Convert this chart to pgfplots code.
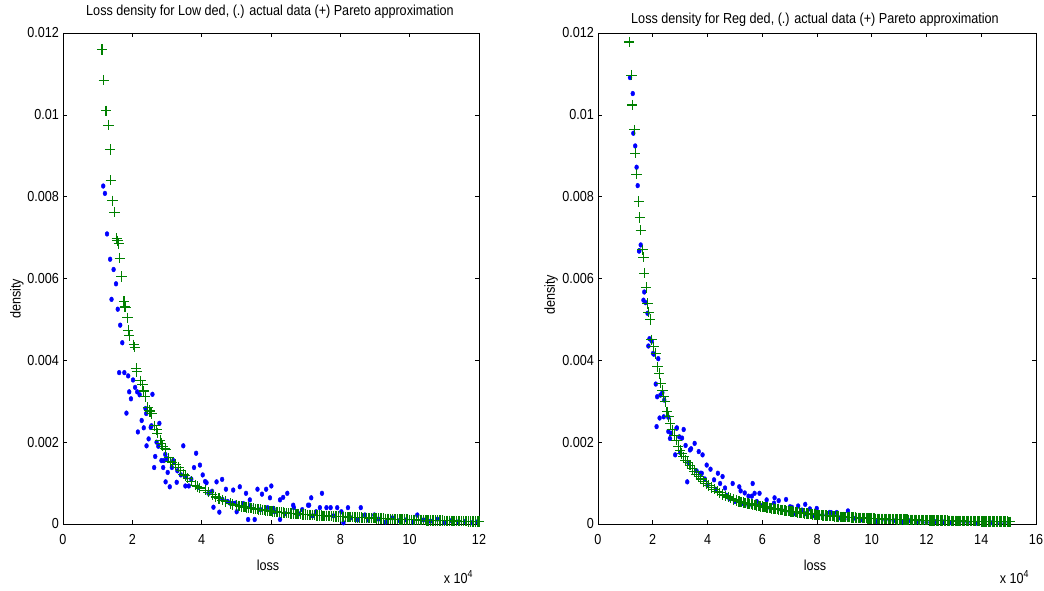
\documentclass[border=0pt]{standalone}
\usepackage{graphicx}
\usepackage{fontspec}
\setmainfont{Liberation Sans}
\usepackage{pgfplots}
\pgfplotsset{compat=1.18}
\usepackage{pgfplotstable}

\definecolor{mblue}{rgb}{0,0,1}
\definecolor{mgreen}{rgb}{0,0.5,0}
\newcommand\cx[1]{\scalebox{0.87}[1]{#1}}

% loss in units of 10^4, density in units of 10^-3
\pgfplotstableread{
x y
1.16 8.26
1.21 8.08
1.27 7.09
1.36 6.47
1.40 5.49
1.46 6.22
1.53 5.87
1.58 5.25
1.65 4.86
1.71 4.43
1.62 3.70
1.77 3.70
1.83 2.71
1.88 3.62
1.91 3.23
1.96 3.06
2.02 3.52
2.08 3.34
2.14 3.23
2.16 2.25
2.21 3.16
2.27 2.53
2.33 2.35
2.38 2.82
2.41 1.91
2.47 2.08
2.53 2.36
2.58 3.17
2.63 1.38
2.66 1.65
2.78 2.46
2.84 1.55
2.89 1.38
2.91 1.55
2.96 1.03
3.02 1.26
3.08 0.91
3.14 1.38
3.18 1.55
3.28 1.02
3.47 1.91
3.53 0.93
3.63 0.93
3.78 1.38
3.84 1.73
3.95 1.44
4.03 1.20
4.10 1.04
4.14 1.01
4.34 0.41
4.43 1.03
4.51 0.29
4.59 1.09
4.70 0.85
4.82 0.51
4.91 0.83
4.97 0.51
5.01 0.30
5.10 0.91
5.28 0.75
5.34 0.11
5.39 0.59
5.53 0.11
5.61 0.85
5.74 0.73
5.86 0.85
5.97 0.64
6.01 0.93
6.07 0.38
6.26 0.11
6.26 0.59
6.35 0.65
6.47 0.75
6.64 0.46
6.66 0.40
7.07 0.46
7.10 0.46
7.16 0.64
7.30 0.30
7.41 0.40
7.47 0.75
7.60 0.40
7.72 0.40
7.91 0.40
8.03 0.30
8.09 0.03
8.22 0.40
8.59 0.40
8.71 0.22
8.98 0.22
10.22 0.22
2.40 2.70
2.55 2.40
2.70 2.00
2.75 1.90
2.95 1.70
3.00 1.60
3.20 1.50
3.30 1.30
3.40 1.20
3.55 1.15
3.70 1.10
3.90 0.90
4.20 0.75
4.30 0.80
4.60 0.60
4.75 0.55
4.90 0.50
5.20 0.50
5.40 0.45
5.70 0.35
5.90 0.40
6.10 0.30
6.40 0.25
6.80 0.25
6.90 0.35
7.20 0.20
7.50 0.15
7.80 0.20
8.30 0.15
8.50 0.10
8.80 0.10
9.10 0.12
9.30 0.05
9.50 0.15
9.70 0.08
9.90 0.10
10.10 0.05
10.40 0.10
10.60 0.07
10.80 0.12
11.00 0.04
11.20 0.08
11.40 0.05
11.60 0.06
11.80 0.03
11.95 0.05
}\lowdata

\pgfplotstableread{
x y
1.125 11.60
1.18 10.85
1.24 10.10
1.31 9.75
1.36 9.15
1.38 8.40
1.43 7.90
1.49 7.62
1.55 6.98
1.57 6.92
1.61 6.85
1.64 6.50
1.69 6.05
1.76 5.44
1.78 5.31
1.80 5.30
1.86 5.04
1.88 4.74
1.91 4.61
2.04 4.38
2.07 4.32
2.11 3.80
2.13 3.72
2.23 3.50
2.29 3.40
2.33 3.25
2.37 3.11
2.45 2.85
2.49 2.78
2.51 2.74
2.55 2.70
2.65 2.40
2.70 2.30
2.72 2.22
2.80 2.05
2.83 1.97
2.88 1.90
2.95 1.84
2.97 1.81
3.05 1.62
3.09 1.52
3.15 1.50
3.25 1.45
3.34 1.39
3.40 1.30
3.48 1.22
3.52 1.19
3.60 1.12
3.70 1.05
3.81 0.95
3.87 0.92
3.95 0.88
4.10 0.83
4.20 0.78
4.30 0.72
4.41 0.66
4.50 0.62
4.60 0.58
4.70 0.55
4.82 0.50
4.90 0.48
5.0 0.450
5.1 0.435
5.2 0.420
5.3 0.405
5.4 0.392
5.5 0.380
5.6 0.366
5.7 0.352
5.8 0.340
5.9 0.325
6.0 0.312
6.1 0.302
6.2 0.292
6.3 0.282
6.4 0.272
6.5 0.262
6.6 0.256
6.7 0.250
6.8 0.243
6.9 0.236
7.0 0.230
7.1 0.224
7.2 0.218
7.3 0.212
7.4 0.206
7.5 0.200
7.6 0.196
7.7 0.192
7.8 0.188
7.9 0.184
8.0 0.180
8.1 0.176
8.2 0.172
8.3 0.168
8.4 0.164
8.5 0.160
8.6 0.156
8.7 0.152
8.8 0.148
8.9 0.144
9.0 0.140
9.1 0.136
9.2 0.132
9.3 0.128
9.4 0.124
9.5 0.120
9.6 0.117
9.7 0.114
9.8 0.111
9.9 0.108
10.0 0.105
10.1 0.102
10.2 0.099
10.3 0.096
10.4 0.093
10.5 0.090
10.6 0.088
10.7 0.086
10.8 0.084
10.9 0.082
11.0 0.080
11.1 0.078
11.2 0.076
11.3 0.074
11.4 0.072
11.5 0.070
11.6 0.068
11.7 0.066
11.8 0.064
11.9 0.062
12.0 0.060
}\lowpareto

% the denser part of the Pareto band, left panel
\pgfplotstableread{
x y
5.05 0.443
5.15 0.428
5.25 0.412
5.35 0.399
5.45 0.386
5.55 0.372
5.65 0.359
5.75 0.346
5.85 0.332
5.95 0.318
6.05 0.307
6.15 0.297
6.25 0.287
6.35 0.277
6.45 0.267
6.55 0.259
6.65 0.253
6.75 0.246
6.85 0.240
6.95 0.233
7.05 0.227
7.15 0.221
7.25 0.215
7.35 0.209
7.45 0.203
7.55 0.198
7.65 0.194
7.75 0.190
7.85 0.186
7.95 0.182
8.05 0.178
8.15 0.174
8.25 0.170
8.35 0.166
8.45 0.162
8.55 0.158
8.65 0.154
8.75 0.150
8.85 0.146
8.95 0.142
9.05 0.138
9.15 0.134
9.25 0.130
9.35 0.126
9.45 0.122
9.55 0.118
9.65 0.115
9.75 0.112
9.85 0.109
9.95 0.106
10.05 0.103
10.15 0.100
10.25 0.097
10.35 0.094
10.45 0.091
10.55 0.089
10.65 0.087
10.75 0.085
10.85 0.083
10.95 0.081
11.05 0.079
11.15 0.077
11.25 0.075
11.35 0.073
11.45 0.071
11.55 0.069
11.65 0.067
11.75 0.065
11.85 0.063
11.95 0.061
}\lowparetob

\pgfplotstableread{
x y
1.17 10.91
1.27 10.52
1.29 9.55
1.36 9.24
1.41 8.72
1.45 8.27
1.50 6.67
1.51 6.68
1.56 6.82
1.66 5.47
1.69 5.67
1.74 5.41
1.81 5.15
1.84 4.35
1.88 4.53
1.96 4.47
2.01 4.17
2.04 4.15
2.11 3.42
2.14 2.38
2.16 3.11
2.20 4.04
2.25 2.59
2.28 3.15
2.35 3.21
2.40 2.62
2.42 3.03
2.57 2.61
2.57 2.26
2.63 2.09
2.67 2.22
2.82 1.69
2.87 2.34
2.88 2.35
2.97 2.13
3.07 2.10
3.13 2.31
3.20 1.92
3.26 1.03
3.36 1.81
3.40 1.84
3.53 1.97
3.68 1.77
3.75 1.24
3.79 1.24
3.82 1.69
3.97 1.44
4.11 1.34
4.24 1.08
4.38 1.24
4.46 0.99
4.55 1.16
4.64 0.88
4.92 0.99
5.16 0.91
5.21 0.81
5.36 0.76
5.50 0.68
5.62 0.68
5.65 0.99
5.72 0.75
5.80 0.55
5.90 0.75
6.16 0.59
6.43 0.51
6.45 0.64
6.60 0.57
6.87 0.60
7.01 0.42
7.08 0.41
7.31 0.44
7.45 0.34
7.57 0.48
7.74 0.37
7.99 0.38
8.46 0.28
8.51 0.28
8.72 0.28
9.13 0.32
3.00 1.75
3.30 1.50
3.60 1.30
3.90 1.10
4.00 0.95
4.30 0.85
4.70 0.70
4.80 0.62
5.00 0.55
5.30 0.50
5.50 0.45
6.00 0.45
6.30 0.38
6.70 0.35
7.00 0.30
7.20 0.25
7.60 0.25
7.90 0.20
8.20 0.22
8.80 0.15
9.00 0.12
9.40 0.14
9.60 0.10
9.90 0.12
10.20 0.06
10.50 0.10
10.80 0.08
11.10 0.05
11.40 0.08
11.70 0.06
12.00 0.04
12.30 0.06
12.60 0.05
12.90 0.03
13.20 0.05
13.50 0.04
13.80 0.02
14.10 0.04
14.40 0.03
14.70 0.02
15.00 0.03
}\regdata

\pgfplotstableread{
x y
1.14 11.78
1.22 10.97
1.25 10.24
1.33 9.63
1.36 9.06
1.41 8.55
1.49 7.88
1.53 7.49
1.56 7.18
1.63 6.70
1.66 6.52
1.69 6.13
1.76 5.78
1.81 5.39
1.84 5.18
1.91 5.00
1.96 4.50
2.03 4.33
2.11 4.17
2.18 3.84
2.23 3.68
2.30 3.44
2.35 3.27
2.40 3.11
2.45 2.99
2.52 2.74
2.59 2.62
2.64 2.46
2.71 2.30
2.79 2.17
2.86 2.05
2.93 1.89
3.00 1.80
3.06 1.72
3.12 1.64
3.20 1.56
3.28 1.50
3.36 1.44
3.44 1.36
3.52 1.28
3.60 1.21
3.68 1.15
3.76 1.10
3.85 1.04
3.95 0.99
4.05 0.94
4.15 0.89
4.25 0.85
4.35 0.80
4.45 0.76
4.55 0.72
4.65 0.69
4.75 0.66
4.85 0.63
4.95 0.60
5.05 0.57
5.15 0.550
5.25 0.535
5.35 0.520
5.45 0.505
5.55 0.490
5.65 0.475
5.75 0.460
5.85 0.445
5.95 0.430
6.05 0.418
6.15 0.406
6.25 0.394
6.35 0.382
6.45 0.371
6.55 0.360
6.65 0.349
6.75 0.338
6.85 0.327
6.95 0.316
7.05 0.306
7.15 0.296
7.25 0.287
7.35 0.278
7.45 0.269
7.55 0.260
7.65 0.252
7.75 0.244
7.85 0.236
7.95 0.228
8.05 0.221
8.15 0.215
8.25 0.209
8.35 0.203
8.45 0.198
8.55 0.193
8.65 0.188
8.75 0.183
8.85 0.178
8.95 0.174
9.05 0.170
9.15 0.166
9.25 0.162
9.35 0.158
9.45 0.154
9.55 0.150
9.65 0.146
9.75 0.142
9.85 0.138
9.95 0.134
10.05 0.131
10.15 0.129
10.25 0.127
10.35 0.125
10.45 0.123
10.55 0.121
10.65 0.119
10.75 0.117
10.85 0.115
10.95 0.113
11.05 0.111
11.15 0.109
11.25 0.107
11.35 0.105
11.45 0.103
11.55 0.101
11.65 0.099
11.75 0.097
11.85 0.095
11.95 0.093
12.05 0.091
12.15 0.090
12.25 0.088
12.35 0.087
12.45 0.085
12.55 0.084
12.65 0.082
12.75 0.081
12.85 0.079
12.95 0.078
13.05 0.076
13.15 0.075
13.25 0.074
13.35 0.073
13.45 0.072
13.55 0.071
13.65 0.070
13.75 0.069
13.85 0.068
13.95 0.067
14.05 0.066
14.15 0.065
14.25 0.064
14.35 0.063
14.45 0.062
14.55 0.061
14.65 0.060
14.75 0.059
14.85 0.058
14.95 0.057
15.05 0.056
}\regpareto

% the denser part of the Pareto band, right panel
\pgfplotstableread{
x y
5.20 0.542
5.30 0.527
5.40 0.512
5.50 0.497
5.60 0.482
5.70 0.467
5.80 0.452
5.90 0.437
6.00 0.424
6.10 0.412
6.20 0.400
6.30 0.388
6.40 0.376
6.50 0.365
6.60 0.354
6.70 0.343
6.80 0.332
6.90 0.321
7.00 0.311
7.10 0.301
7.20 0.291
7.30 0.282
7.40 0.273
7.50 0.264
7.60 0.256
7.70 0.248
7.80 0.240
7.90 0.232
8.00 0.224
8.10 0.218
8.20 0.212
8.30 0.206
8.40 0.200
8.50 0.195
8.60 0.190
8.70 0.185
8.80 0.180
8.90 0.176
9.00 0.172
9.10 0.168
9.20 0.164
9.30 0.160
9.40 0.156
9.50 0.152
9.60 0.148
9.70 0.144
9.80 0.140
9.90 0.136
10.00 0.132
10.10 0.130
10.20 0.128
10.30 0.126
10.40 0.124
10.50 0.122
10.60 0.120
10.70 0.118
10.80 0.116
10.90 0.114
11.00 0.112
11.10 0.110
11.20 0.108
11.30 0.106
11.40 0.104
11.50 0.102
11.60 0.100
11.70 0.098
11.80 0.096
11.90 0.094
12.00 0.092
12.10 0.090
12.20 0.089
12.30 0.087
12.40 0.086
12.50 0.084
12.60 0.083
12.70 0.081
12.80 0.080
12.90 0.078
13.00 0.077
13.10 0.075
13.20 0.074
13.30 0.073
13.40 0.072
13.50 0.071
13.60 0.070
13.70 0.069
13.80 0.068
13.90 0.067
14.00 0.066
14.10 0.065
14.20 0.064
14.30 0.063
14.40 0.062
14.50 0.061
14.60 0.060
14.70 0.059
14.80 0.058
14.90 0.057
15.00 0.056
}\regparetob

\pgfplotsset{
  matlab/.style={
    scale only axis,
    height=491pt,
    ymin=0, ymax=12,
    ytick={0,2,4,6,8,10,12},
    yticklabels={\cx{0},\cx{0.002},\cx{0.004},\cx{0.006},\cx{0.008},\cx{0.01},\cx{0.012}},
    tick align=inside,
    major tick length=4pt,
    tick style={black, line width=0.6pt},
    axis line style={black, line width=0.8pt},
    yticklabel style={xshift=1pt},
    xticklabel style={yshift=-5pt},
    clip=false,
  },
  dots/.style={only marks, mark=*, mark size=2.4pt, color=mblue,
    mark options={xscale=0.8}},
  crosses/.style={only marks, mark=+, mark size=5.2pt, color=mgreen,
    mark options={line width=1.05pt}},
}

\begin{document}
\fontsize{14.5}{16}\selectfont
\begin{tikzpicture}[x=1pt,y=1pt]
\path[use as bounding box] (0,0) rectangle (1044,590);

\begin{axis}[matlab, at={(63pt,66pt)}, anchor=south west,
  width=416pt, xmin=0, xmax=12, xtick={0,2,4,6,8,10,12},
  xticklabels={\cx{0},\cx{2},\cx{4},\cx{6},\cx{8},\cx{10},\cx{12}}]
  \addplot[dots] table[x=x,y=y] {\lowdata};
  \addplot[crosses] table[x=x,y=y] {\lowpareto};
  \addplot[crosses] table[x=x,y=y] {\lowparetob};
\end{axis}

\begin{axis}[matlab, at={(598pt,66pt)}, anchor=south west,
  width=438pt, xmin=0, xmax=16, xtick={0,2,4,6,8,10,12,14,16},
  xticklabels={\cx{0},\cx{2},\cx{4},\cx{6},\cx{8},\cx{10},\cx{12},\cx{14},\cx{16}}]
  \addplot[dots] table[x=x,y=y] {\regdata};
  \addplot[crosses] table[x=x,y=y] {\regpareto};
  \addplot[crosses] table[x=x,y=y] {\regparetob};
\end{axis}

\node at (270,578) {\cx{Loss density for Low ded, (.) actual data (+) Pareto approximation}};
\node at (815,570) {\cx{Loss density for Reg ded, (.) actual data (+) Pareto approximation}};
\node at (268,25) {\cx{loss}};
\node at (815,25) {\cx{loss}};
\node[rotate=90] at (17,291) {\cx{density}};
\node[rotate=90] at (551,295) {\cx{density}};
\node[anchor=base east] at (478,7) {\cx{x 10\textsuperscript{4}}};
\node[anchor=base east] at (1034,7) {\cx{x 10\textsuperscript{4}}};
\end{tikzpicture}
\end{document}
